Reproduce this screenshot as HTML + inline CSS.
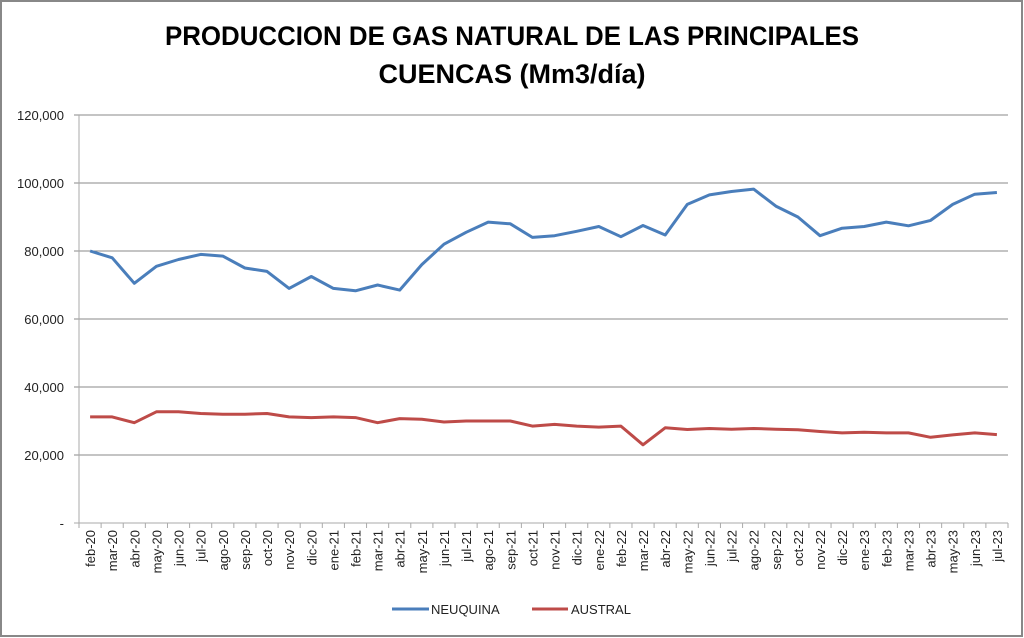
<!DOCTYPE html>
<html><head><meta charset="utf-8"><style>
body{margin:0;background:#fff}
svg{display:block;font-family:"Liberation Sans",sans-serif}
</style></head><body>
<svg id="s" width="1024" height="638" viewBox="0 0 1024 638">
<rect x="1" y="1" width="1021" height="635" fill="#fff" stroke="#888" stroke-width="2"/>
<text x="512" y="45" text-anchor="middle" font-size="27" font-weight="bold" textLength="694" lengthAdjust="spacingAndGlyphs">PRODUCCION DE GAS NATURAL DE LAS PRINCIPALES</text>
<text x="512" y="83" text-anchor="middle" font-size="27" font-weight="bold">CUENCAS (Mm3/día)</text>
<g id="g"></g>
<line x1="392" y1="609" x2="429" y2="609" stroke="#4a7ebb" stroke-width="3"/>
<text x="431" y="614" font-size="13" fill="#222">NEUQUINA</text>
<line x1="532" y1="609" x2="568" y2="609" stroke="#be4b48" stroke-width="3"/>
<text x="571" y="614" font-size="13" fill="#222">AUSTRAL</text>
</svg>
<script>
var N=[80000,78000,70500,75500,77500,79000,78500,75000,74000,69000,72500,69000,68300,70000,68500,76000,82000,85500,88500,88000,84000,84500,85800,87200,84200,87500,84700,93700,96500,97500,98200,93200,90000,84500,86700,87200,88500,87400,89000,93700,96700,97200];
var A=[31200,31200,29500,32700,32700,32200,32000,32000,32200,31200,31000,31200,31000,29500,30700,30500,29700,30000,30000,30000,28500,29000,28500,28200,28500,23000,28000,27500,27800,27600,27800,27600,27400,26900,26500,26700,26500,26500,25200,25900,26500,26000];
var mo=["ene","feb","mar","abr","may","jun","jul","ago","sep","oct","nov","dic"];
var L=79,R=1008,B=523,T=115,w=(R-L)/42,h="";
function Y(v){return B-(v/120000)*(B-T);}
for(var i=0;i<=6;i++){var y=B-i*68;
 if(i>0)h+='<line x1="'+(L-5)+'" y1="'+y+'" x2="'+R+'" y2="'+y+'" stroke="#888" stroke-width="1"/>';
 h+='<text x="64" y="'+(y+5)+'" text-anchor="end" font-size="13" fill="#222">'+(i==0?'-':(i*20)+',000')+'</text>';}
h+='<line x1="'+L+'" y1="'+T+'" x2="'+L+'" y2="'+B+'" stroke="#aaa"/>';
h+='<line x1="'+(L-5)+'" y1="'+B+'" x2="'+R+'" y2="'+B+'" stroke="#aaa"/>';
for(var i=0;i<=42;i++){var x=L+i*w;h+='<line x1="'+x+'" y1="'+B+'" x2="'+x+'" y2="'+(B+5)+'" stroke="#aaa"/>';}
for(var i=0;i<42;i++){var m=(i+1)%12,yr=20+Math.floor((i+1)/12);var x=L+(i+0.5)*w;
 h+='<text transform="translate('+(x+5)+',530) rotate(-90)" text-anchor="end" font-size="13" fill="#222">'+mo[m]+'-'+yr+'</text>';}
function P(d,c){var p="";for(var i=0;i<d.length;i++)p+=(L+(i+0.5)*w).toFixed(1)+","+Y(d[i]).toFixed(1)+" ";
 return '<polyline points="'+p+'" fill="none" stroke="'+c+'" stroke-width="3" stroke-linejoin="round"/>';}
h+=P(N,"#4a7ebb")+P(A,"#be4b48");
document.getElementById("g").innerHTML=h;
</script>
</body></html>
